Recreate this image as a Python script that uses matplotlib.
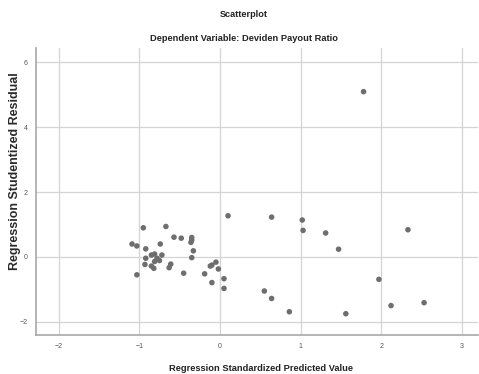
import matplotlib
matplotlib.use("Agg")
import matplotlib.pyplot as plt
from matplotlib import font_manager

# ---------------------------------------------------------------------------
# Data
# ---------------------------------------------------------------------------
pred_std = [
    0.10, -0.95, -0.67, -1.09, -1.03, -0.57, -0.48, -0.35, -0.35, -0.36,
    -0.74, -0.92, -0.33, -0.35, -0.81, -0.85, -0.72, -0.92, -0.78, -0.75,
    -0.81, -0.93, -0.85, -0.82, -0.61, -0.63, -1.03, -0.45, -0.19, -0.12,
    -0.10, -0.05, -0.02, 0.05, -0.10, 0.05,
    0.64, 1.02, 1.03, 1.31, 1.47, 2.33, 1.97, 0.55, 0.64, 0.86,
    1.56, 2.12, 2.53, 1.78,
]
resid_stud = [
    1.27, 0.90, 0.94, 0.40, 0.34, 0.61, 0.58, 0.60, 0.52, 0.45,
    0.40, 0.25, 0.19, -0.02, 0.09, 0.06, 0.06, -0.04, -0.04, -0.11,
    -0.14, -0.23, -0.28, -0.35, -0.22, -0.33, -0.55, -0.50, -0.52, -0.28,
    -0.25, -0.16, -0.37, -0.67, -0.79, -0.97,
    1.23, 1.14, 0.82, 0.74, 0.24, 0.84, -0.69, -1.05, -1.28, -1.69,
    -1.75, -1.50, -1.41, 5.10,
]
x_ticks = [-2, -1, 0, 1, 2, 3]
y_ticks = [-2, 0, 2, 4, 6]

installed = {f.name for f in font_manager.fontManager.ttflist}
NARROW = "Liberation Sans Narrow" if "Liberation Sans Narrow" in installed else "Liberation Sans"

# ---------------------------------------------------------------------------
# Figure
# ---------------------------------------------------------------------------
fig = plt.figure(figsize=(4.79, 3.74), dpi=100)
ax = fig.add_axes([0.0752, 0.104, 0.923, 0.768])

ax.scatter(pred_std, resid_stud, s=16, color="#6e6e6e", edgecolors="none", zorder=3)

ax.set_xlim(-2.28, 3.2)
ax.set_ylim(-2.41, 6.45)
ax.set_xticks(x_ticks)
ax.set_yticks(y_ticks)
ax.grid(True, color="#d4d4d4", linewidth=0.9)
ax.set_axisbelow(True)

for side in ("top", "right"):
    ax.spines[side].set_visible(False)
for side in ("left", "bottom"):
    ax.spines[side].set_color("#a8a8a8")
    ax.spines[side].set_linewidth(1.2)

ax.tick_params(axis="both", length=0, labelsize=5, labelcolor="#555555", pad=6)
for lab in ax.get_xticklabels() + ax.get_yticklabels():
    lab.set_family("Liberation Sans")

fig.text(0.51, 0.96, "Scatterplot", ha="center", va="center",
         fontsize=6.6, fontweight="bold", family=NARROW, color="#222222")
fig.text(0.51, 0.898, "Dependent Variable: Deviden Payout Ratio", ha="center", va="center",
         fontsize=6.7, fontweight="bold", family=NARROW, color="#222222")
fig.text(0.544, 0.016, "Regression Standardized Predicted Value", ha="center", va="center",
         fontsize=6.7, fontweight="bold", family=NARROW, color="#222222")
fig.text(0.031, 0.543, "Regression Studentized Residual", ha="center", va="center",
         rotation=90, fontsize=9.0, fontweight="bold", family="Liberation Sans",
         color="#2a2a2a")

fig.savefig("out.png", dpi=100, facecolor="white")
